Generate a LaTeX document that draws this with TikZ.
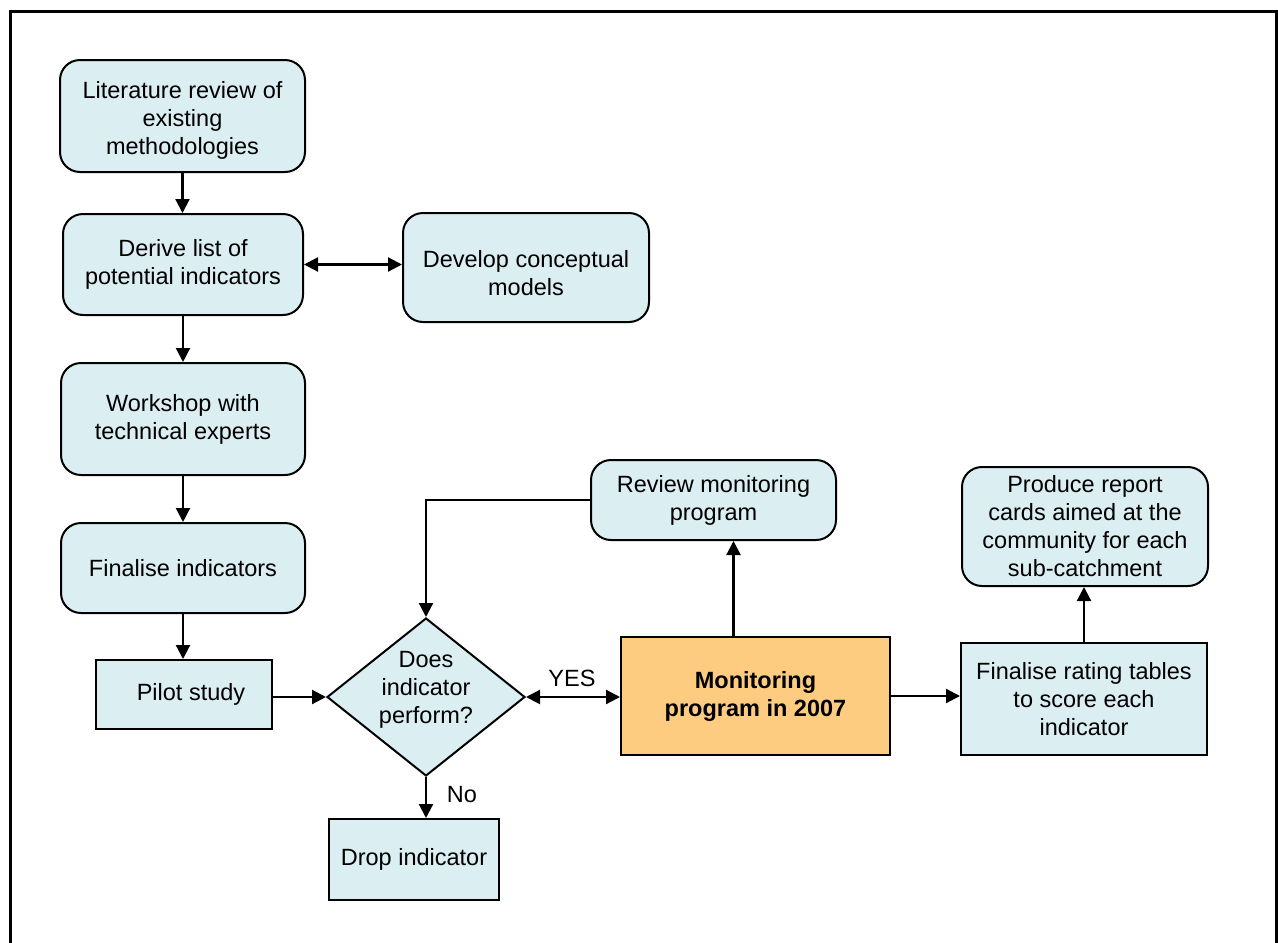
\documentclass[tikz,border=0pt]{standalone}
\usepackage{fontspec}
\setmainfont{Liberation Sans}
\usetikzlibrary{shapes.geometric,arrows.meta}

\definecolor{boxblue}{RGB}{219,238,242}
\definecolor{boxorange}{RGB}{254,204,128}

\tikzset{every picture/.style={line width=2pt},
	stepbox/.style={draw, fill=boxblue, inner sep=0pt, align=center, font=\fontsize{23.5}{28}\selectfont},
	roundbox/.style={stepbox, rounded corners=20pt},
	txt/.style={inner sep=0pt, align=center, font=\fontsize{23.5}{28}\selectfont},
	flow/.style={-{Triangle[length=14pt,width=14pt]}, line width=2.2pt},
	twoway/.style={{Triangle[length=14pt,width=14pt]}-{Triangle[length=14pt,width=14pt]}, line width=2.2pt}}

\begin{document}
\begin{tikzpicture}[x=1pt,y=1pt,yscale=-1,xscale=1]
	\useasboundingbox (0,0) rectangle (1278,943);
	
	%Frame
	\draw [line width=3pt] (10,960) -- (10,11) -- (1276,11) -- (1276,960) ;
	
	%Rounded boxes, left column
	\node [roundbox, minimum width=245pt, minimum height=112pt] (lit) at (182.5,116) {\rule{0pt}{26pt}Literature review of\\existing\\methodologies};
	\node [roundbox, minimum width=240pt, minimum height=101pt] (der) at (183,264.5) {Derive list of\\potential indicators};
	\node [roundbox, minimum width=246pt, minimum height=109pt] (dev) at (526,267.5) {\rule{0pt}{28pt}Develop conceptual\\models};
	\node [roundbox, minimum width=244pt, minimum height=112pt] (ws) at (183,419) {Workshop with\\technical experts};
	\node [roundbox, minimum width=244pt, minimum height=90pt] (fin) at (183,568) {Finalise indicators};
	
	%Plain boxes
	\node [stepbox, minimum width=176pt, minimum height=69pt] (pilot) at (184,694.5) {\hspace{14pt}Pilot study};
	\node [stepbox, minimum width=170pt, minimum height=81pt] (drop) at (414,859.5) {Drop indicator};
	\node [stepbox, fill=boxorange, minimum width=269pt, minimum height=118pt, font=\fontsize{23.5}{28}\selectfont\bfseries] (mon) at (755.5,696) {Monitoring\\program in 2007};
	\node [stepbox, minimum width=246pt, minimum height=112pt] (frt) at (1084,699) {Finalise rating tables\\to score each\\indicator};
	
	%Rounded boxes, right
	\node [roundbox, minimum width=245pt, minimum height=80pt] (rev) at (713.5,500) {Review monitoring\\program};
	\node [roundbox, minimum width=246pt, minimum height=119pt] (rep) at (1085,526.5) {Produce report\\cards aimed at the\\community for each\\sub-catchment};
	
	%Decision
	\node [draw, fill=boxblue, shape=diamond, minimum width=198pt, minimum height=158pt, inner sep=0pt] (dec) at (426,697) {};
	\node [txt] (dect) at (426,690) {Does\\indicator\\perform?};
	
	%Connectors
	\draw [flow] (lit.south) -- (lit.south |- der.north) ;
	\draw [twoway] (der.east) -- (der.east -| dev.west) ;
	\draw [flow] (der.south) -- (der.south |- ws.north) ;
	\draw [flow] (ws.south) -- (ws.south |- fin.north) ;
	\draw [flow] (fin.south) -- (fin.south |- pilot.north) ;
	\draw [flow] (pilot.east |- dec.west) -- (dec.west) ;
	\draw [twoway] (dec.east) -- (dec.east -| mon.west) ;
	\draw [flow] (dec.south) -- (dec.south |- drop.north) ;
	\draw [flow] (rev.west) -| (dec.north) ;
	\draw [flow] ([xshift=-22pt]mon.north) -- ([xshift=-22pt]mon.north |- rev.south) ;
	\draw [flow] (mon.east) -- (mon.east -| frt.west) ;
	\draw [flow] (frt.north) -- (frt.north |- rep.south) ;
	
	% Text Node
	\node [txt] (yes) at (572,678) {YES};
	% Text Node
	\node [txt] (no) at (462,795) {No};
	
\end{tikzpicture}
\end{document}
